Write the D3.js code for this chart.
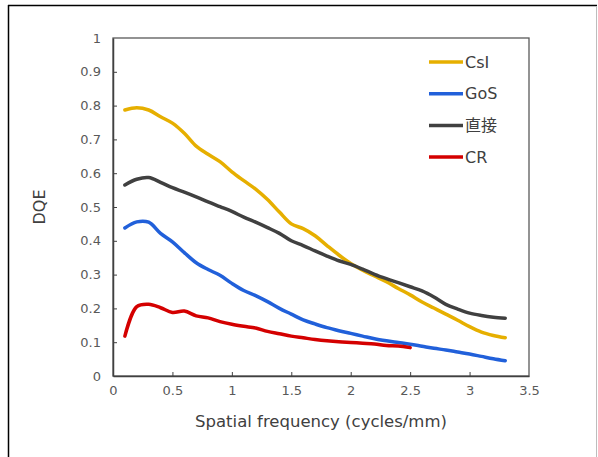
<!DOCTYPE html>
<html>
<head>
<meta charset="utf-8">
<script src="https://cdn.jsdelivr.net/npm/d3@7"></script>
<style>
  body { margin: 0; background: #fff; }
  text { font-family: "DejaVu Sans", "Noto Sans CJK JP", sans-serif; }
</style>
</head>
<body>
<div id="chart"></div>
<script>
"use strict";

// spatial frequency (cycles/mm)
const freq = [0.1, 0.2, 0.3, 0.4, 0.5, 0.6, 0.7, 0.8, 0.9, 1.0, 1.1, 1.2, 1.3, 1.4, 1.5, 1.6, 1.7,
    1.8, 1.9, 2.0, 2.1, 2.2, 2.3, 2.4, 2.5, 2.6, 2.7, 2.8, 2.9, 3.0, 3.1, 3.2, 3.3];

const csi = [0.787, 0.794, 0.787, 0.767, 0.748, 0.718, 0.680, 0.656, 0.634, 0.604, 0.578, 0.553,
    0.522, 0.485, 0.450, 0.436, 0.415, 0.386, 0.358, 0.333, 0.313, 0.296, 0.279, 0.259, 0.240,
    0.219, 0.201, 0.183, 0.165, 0.146, 0.130, 0.120, 0.113];
const gos = [0.438, 0.456, 0.455, 0.422, 0.397, 0.365, 0.335, 0.315, 0.298, 0.274, 0.253, 0.238,
    0.220, 0.200, 0.183, 0.166, 0.154, 0.143, 0.134, 0.126, 0.118, 0.110, 0.104, 0.099, 0.094,
    0.088, 0.082, 0.077, 0.071, 0.065, 0.058, 0.051, 0.045];
const direct = [0.565, 0.582, 0.587, 0.573, 0.557, 0.544, 0.530, 0.515, 0.501, 0.487, 0.470, 0.455,
    0.439, 0.422, 0.400, 0.386, 0.370, 0.355, 0.341, 0.330, 0.316, 0.301, 0.288, 0.276, 0.264,
    0.252, 0.234, 0.212, 0.198, 0.186, 0.179, 0.174, 0.171];
// CR only measured up to 2.5
const cr = [0.118, 0.205, 0.212, 0.202, 0.188, 0.192, 0.178, 0.172, 0.161, 0.153, 0.147, 0.142,
    0.132, 0.125, 0.118, 0.113, 0.108, 0.104, 0.101, 0.099, 0.097, 0.095, 0.090, 0.089, 0.084];

const seriesNames = ["CsI", "GoS", "直接", "CR"];
const seriesColors = ["#E6AF00", "#2160DA", "#404040", "#D40000"];
const seriesValues = [csi, gos, direct, cr];

const xTicks = [0, 0.5, 1, 1.5, 2, 2.5, 3, 3.5];
const yTicks = [0, 0.1, 0.2, 0.3, 0.4, 0.5, 0.6, 0.7, 0.8, 0.9, 1];

const msm = {
    width: 598,
    height: 457,
    left: 113,
    right: 529,
    top: 38,
    bottom: 376
};

const svg = d3.select("#chart")
    .append("svg")
    .attr("width", msm.width)
    .attr("height", msm.height);

// outer frame: dark top/left, light right
svg.append("line").attr("x1", 8).attr("x2", 597).attr("y1", 5.5).attr("y2", 5.5)
    .attr("stroke", "#000").attr("stroke-width", 1.5);
svg.append("line").attr("x1", 8.5).attr("x2", 8.5).attr("y1", 5).attr("y2", msm.height)
    .attr("stroke", "#000").attr("stroke-width", 1.5);
svg.append("line").attr("x1", 596.5).attr("x2", 596.5).attr("y1", 6).attr("y2", msm.height)
    .attr("stroke", "#bdbdbd").attr("stroke-width", 1);

const xScale = d3.scaleLinear().domain([0, 3.5]).range([msm.left, msm.right]);
const yScale = d3.scaleLinear().domain([0, 1]).range([msm.bottom, msm.top]);

// plot frame
svg.append("rect")
    .attr("x", msm.left)
    .attr("y", msm.top)
    .attr("width", msm.right - msm.left)
    .attr("height", msm.bottom - msm.top)
    .attr("fill", "none")
    .attr("stroke", "#595959")
    .attr("stroke-width", 1.3);

// axes with inside ticks
const xAxis = d3.axisBottom(xScale).tickValues(xTicks).tickSizeInner(-4).tickSizeOuter(0)
    .tickPadding(10).tickFormat(d3.format("~g"));
svg.append("g")
    .attr("transform", "translate(0," + msm.bottom + ")")
    .call(xAxis)
    .call(g => g.select(".domain").attr("stroke", "#404040").attr("stroke-width", 1.5))
    .call(g => g.selectAll(".tick line").attr("stroke", "#404040"))
    .call(g => g.selectAll(".tick").filter(d => d === 0 || d === 3.5).select("line").remove())
    .call(g => g.selectAll(".tick text").attr("fill", "#595959").style("font-size", "13px"));

const yAxis = d3.axisLeft(yScale).tickValues(yTicks).tickSizeInner(-4).tickSizeOuter(0)
    .tickPadding(12).tickFormat(d3.format("~g"));
svg.append("g")
    .attr("transform", "translate(" + msm.left + ",0)")
    .call(yAxis)
    .call(g => g.select(".domain").attr("stroke", "#404040").attr("stroke-width", 1.5))
    .call(g => g.selectAll(".tick line").attr("stroke", "#404040"))
    .call(g => g.selectAll(".tick").filter(d => d === 0 || d === 1).select("line").remove())
    .call(g => g.selectAll(".tick text").attr("fill", "#595959").style("font-size", "13px"));

// axis titles
svg.append("text")
    .attr("x", (msm.left + msm.right) / 2)
    .attr("y", 427)
    .attr("text-anchor", "middle")
    .attr("fill", "#404040")
    .style("font-size", "16.5px")
    .text("Spatial frequency (cycles/mm)");

svg.append("text")
    .attr("transform", "translate(45," + ((msm.top + msm.bottom) / 2) + ") rotate(-90)")
    .attr("text-anchor", "middle")
    .attr("fill", "#404040")
    .style("font-size", "16px")
    .text("DQE");

// lines
const line = d3.line()
    .x((d, i) => xScale(freq[i]))
    .y(d => yScale(d))
    .curve(d3.curveCatmullRom.alpha(0.5));

svg.selectAll(".series")
    .data(seriesValues)
    .enter()
    .append("path")
    .attr("class", "series")
    .attr("d", d => line(d))
    .attr("fill", "none")
    .attr("stroke", (d, i) => seriesColors[i])
    .attr("stroke-width", 3.5)
    .attr("stroke-linecap", "round")
    .attr("stroke-linejoin", "round");

// legend
const legend = svg.append("g");
seriesNames.forEach((name, i) => {
    const y = 62 + i * 31.7;
    legend.append("line")
        .attr("x1", 429).attr("x2", 463)
        .attr("y1", y).attr("y2", y)
        .attr("stroke", seriesColors[i])
        .attr("stroke-width", 3.5);
    legend.append("text")
        .attr("x", 465)
        .attr("y", y)
        .attr("dy", "0.36em")
        .attr("fill", "#404040")
        .style("font-size", "16px")
        .text(name);
});
</script>
</body>
</html>
